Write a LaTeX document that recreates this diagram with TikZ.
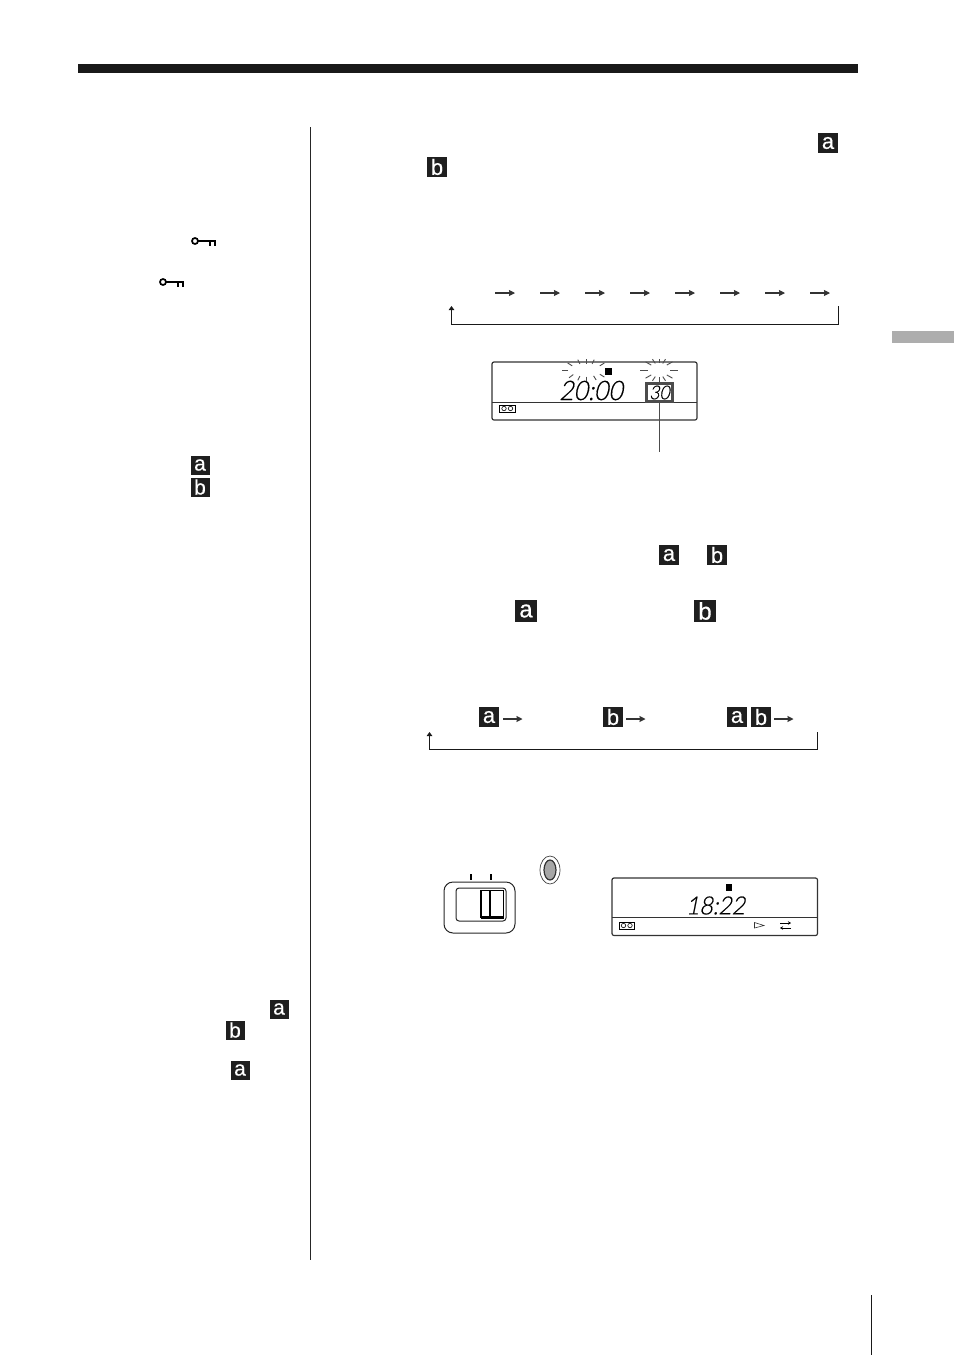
\documentclass[tikz,border=0pt]{standalone}
\usepackage{fontspec}
\usetikzlibrary{arrows.meta}
\setmainfont[FakeBold=0.4]{Liberation Sans}
\newfontfamily\lcdfont[FakeSlant=0.2,FakeStretch=0.92,FakeBold=0.5]{Lato Light}
\definecolor{lcdgray}{gray}{0.3}
\definecolor{tabgray}{gray}{0.68}
\tikzset{
    badge/.style={fill=black!88, text=white, inner sep=0pt, minimum size=#1,
        font=\fontsize{\the\numexpr#1+2\relax}{#1}\selectfont},
    badge/.default=20,
    flow/.style={-{Stealth[length=6pt,width=6pt,inset=0.5pt]}, line width=1.1pt, black!80},
    back/.style={-{Stealth[length=4pt,width=5.5pt,inset=0pt]}, line width=0.85pt, black!90},
    lcd/.style={draw=black!80, line width=1.2pt, rounded corners=2pt},
    ray/.style={lcdgray, line width=0.9pt},
}
\newcommand{\keyicon}[2]{
    \draw[line width=1.7pt] (#1,#2) circle (3);
    \draw[line width=1.5pt] (#1+3.2,#2) -- ++(17.3,0);
    \draw[line width=1.3pt] (#1+15,#2) -- ++(0,4.5);
    \draw[line width=1.3pt] (#1+20,#2) -- ++(0,4.5);
}
\newcommand{\tapeicon}[2]{
    \draw[line width=0.8pt] (#1,#2) rectangle ++(15.5,7);
    \draw[line width=0.6pt] (#1+4.5,#2+3.5) circle (2.2);
    \draw[line width=0.6pt] (#1+11,#2+3.5) circle (2.2);
}
\begin{document}
\begin{tikzpicture}[x=1pt, y=-1pt]
    \useasboundingbox (0,0) rectangle (954,1355);

    % page furniture
    \fill[black!90] (78,64) rectangle (858,73);
    \fill[tabgray] (892,331) rectangle (954,343);
    \draw[black!85, line width=1pt] (310.5,127) -- (310.5,1260);
    \draw[black!90, line width=1.2pt] (871.5,1295) -- (871.5,1355);

    % letters in the margin and in the text
    \node[badge] (a1) at (828,143) {a};
    \node[badge] (b1) at (437,167) {b};
    \node[badge=19] (a2) at (200,465) {a};
    \node[badge=19] (b2) at (200,487) {b};
    \node[badge] (a3) at (669,555) {a};
    \node[badge] (b3) at (717,555) {b};
    \node[badge=22] (a4) at (526,611) {a};
    \node[badge=22] (b4) at (705,611) {b};
    \node[badge=19] (a5) at (279,1009) {a};
    \node[badge=19] (b5) at (235,1030) {b};
    \node[badge=19] (a6) at (240,1070) {a};

    \keyicon{195}{241}
    \keyicon{163}{282}

    % first loop
    \foreach \x in {495,540,...,810} {
        \draw[flow] (\x,293) -- ++(20,0);
    }
    \coordinate (loopright) at (838,306);
    \coordinate (loopleft) at (451.5,306);
    \draw[back] (loopright) -- (838,324) -- (451.5,324) -- (loopleft);

    % display with minutes
    \draw[lcd] (492,362) rectangle (697,420);
    \draw[black!80, line width=0.8pt] (492,402) -- (697,402);
    \fill[black] (605,368) rectangle ++(7,7);
    \node[inner sep=0pt, font=\lcdfont\fontsize{27}{27}\selectfont] (clock) at (591,390.5) {20:00};
    \node[draw=lcdgray, line width=2.5pt, minimum width=26pt, minimum height=18pt, inner sep=0pt,
        font=\lcdfont\fontsize{19}{19}\selectfont] (minutes) at (659.5,392.5) {30};
    \coordinate (minutesend) at (659.5,452);
    \draw[lcdgray, line width=1.8pt] (minutes.south) -- (minutesend);
    \tapeicon{499.5}{405}
    \foreach \a in {40,65,90,110,135,180,220,250,270,290,320} {
        \draw[ray] (586,370) ++(\a:18 and 6.5) -- ++(\a:6 and 4.5);
    }
    \foreach \a in {0,45,70,90,110,135,180,225,250,270,290,315} {
        \draw[ray] (659,370) ++(\a:11 and 7) -- ++(\a:8 and 4.5);
    }

    % second loop
    \node[badge] (a7) at (489,717) {a};
    \node[badge] (b7) at (613,717) {b};
    \node[badge] (a8) at (737,717) {a};
    \node[badge] (b8) at (761,717) {b};
    \foreach \x in {503,626,774} {
        \draw[flow] (\x,719) -- ++(19.5,0);
    }
    \coordinate (backright) at (817.5,732);
    \coordinate (backleft) at (429.5,732);
    \draw[back] (backright) -- (817.5,749) -- (429.5,749) -- (backleft);

    % switch and lamp
    \draw[black!85, line width=1pt, rounded corners=9pt] (444,882) rectangle (515,933);
    \draw[black!85, line width=1pt, rounded corners=3pt] (456,888) rectangle (506,921);
    \draw[black, line width=1.7pt] (481,890.5) rectangle (503.5,917);
    \draw[black, line width=1.2pt] (490,890.5) -- (490,917);
    \draw[black, line width=2.4pt] (481,917.5) -- (503.5,917.5);
    \draw[black, line width=1.3pt] (471,874) -- (471,880);
    \draw[black, line width=1.3pt] (491,874) -- (491,880);
    \draw[black!75, line width=0.7pt] (550,870) ellipse (10 and 14);
    \draw[black!80, fill=black!35, line width=1.2pt] (550,870) ellipse (6 and 10);

    % display with the time
    \draw[lcd] (612,878) rectangle (817.5,935.5);
    \draw[black!80, line width=0.8pt] (612,917.5) -- (817.5,917.5);
    \fill[black] (725.5,884) rectangle ++(6.5,6.5);
    \node[inner sep=0pt, font=\lcdfont\fontsize{25}{25}\selectfont] (now) at (715.5,905.5) {18:22};
    \tapeicon{619}{922}
    \draw[black!80, line width=0.6pt] (754.5,922.5) -- (764,925.5) -- (754.5,928) -- cycle;
    \draw[-{Stealth[length=3pt,width=3.5pt]}, line width=0.8pt] (780,923) -- (791,923);
    \draw[-{Stealth[length=3pt,width=3.5pt]}, line width=0.8pt] (791,928) -- (780,928);
\end{tikzpicture}
\end{document}
